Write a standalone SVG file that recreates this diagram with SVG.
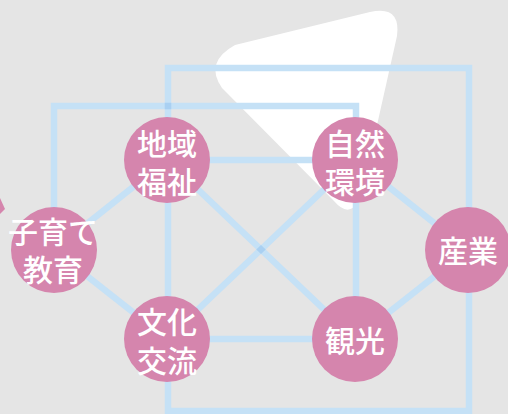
<svg xmlns="http://www.w3.org/2000/svg" width="508" height="414" viewBox="0 0 508 414">
<style>
.ln{fill:none;stroke:#c5e1f6;stroke-width:6.5;stroke-linejoin:miter;stroke-linecap:butt}
.x{fill:#a9d0f2}
.nd{fill:#d585ad}
.t{fill:#ffffff;font-family:"Noto Sans CJK JP","Noto Sans CJK SC",sans-serif;font-size:30px;font-weight:500;text-anchor:middle}
</style>
<rect width="508" height="414" fill="#e5e5e5"/>
<path d="M235,45 L370,12 Q401,5 397,36 L362,192 Q352,222 334,201 L222,88 Q204,62 235,45 Z" fill="#ffffff"/>
<path d="M0,198 L5,209 L0,214 Z" fill="#d585ad"/>
<g id="connectors">
<polyline class="ln" points="54,250 54,106 356,106 356,160"/>
<polyline class="ln" points="168,160 168,68 469,68 469,250"/>
<polyline class="ln" points="168,339 168,411 469,411 469,250"/>
<line class="ln" x1="167" y1="160" x2="355" y2="160"/>
<line class="ln" x1="167" y1="339" x2="355" y2="339"/>
<line class="ln" x1="168" y1="160" x2="168" y2="339"/>
<line class="ln" x1="356" y1="160" x2="356" y2="339"/>
<line class="ln" x1="167" y1="160" x2="54" y2="250"/>
<line class="ln" x1="54" y1="250" x2="167" y2="339"/>
<line class="ln" x1="355" y1="160" x2="468" y2="250"/>
<line class="ln" x1="355" y1="339" x2="468" y2="250"/>
<line class="ln" x1="167" y1="160" x2="355" y2="339"/>
<line class="ln" x1="355" y1="160" x2="167" y2="339"/>
<rect class="x" x="164.75" y="102.75" width="6.5" height="6.5"/>
<polygon class="x" points="256.3,249.5 261,245 265.7,249.5 261,254"/>
</g>
<g id="n-chiiki"><circle class="nd" cx="167" cy="160" r="43"/><text class="t" x="167" y="155">地域</text><text class="t" x="167" y="193">福祉</text></g>
<g id="n-shizen"><circle class="nd" cx="355" cy="160" r="43"/><text class="t" x="355" y="155">自然</text><text class="t" x="355" y="193">環境</text></g>
<g id="n-kosodate"><circle class="nd" cx="54" cy="250" r="43"/><text class="t" x="53" y="243">子育て</text><text class="t" x="53" y="281">教育</text></g>
<g id="n-sangyo"><circle class="nd" cx="468" cy="250" r="43"/><text class="t" x="468" y="262">産業</text></g>
<g id="n-bunka"><circle class="nd" cx="167" cy="339" r="43"/><text class="t" x="167" y="333">文化</text><text class="t" x="167" y="372">交流</text></g>
<g id="n-kanko"><circle class="nd" cx="355" cy="339" r="43"/><text class="t" x="355" y="352">観光</text></g>
</svg>
